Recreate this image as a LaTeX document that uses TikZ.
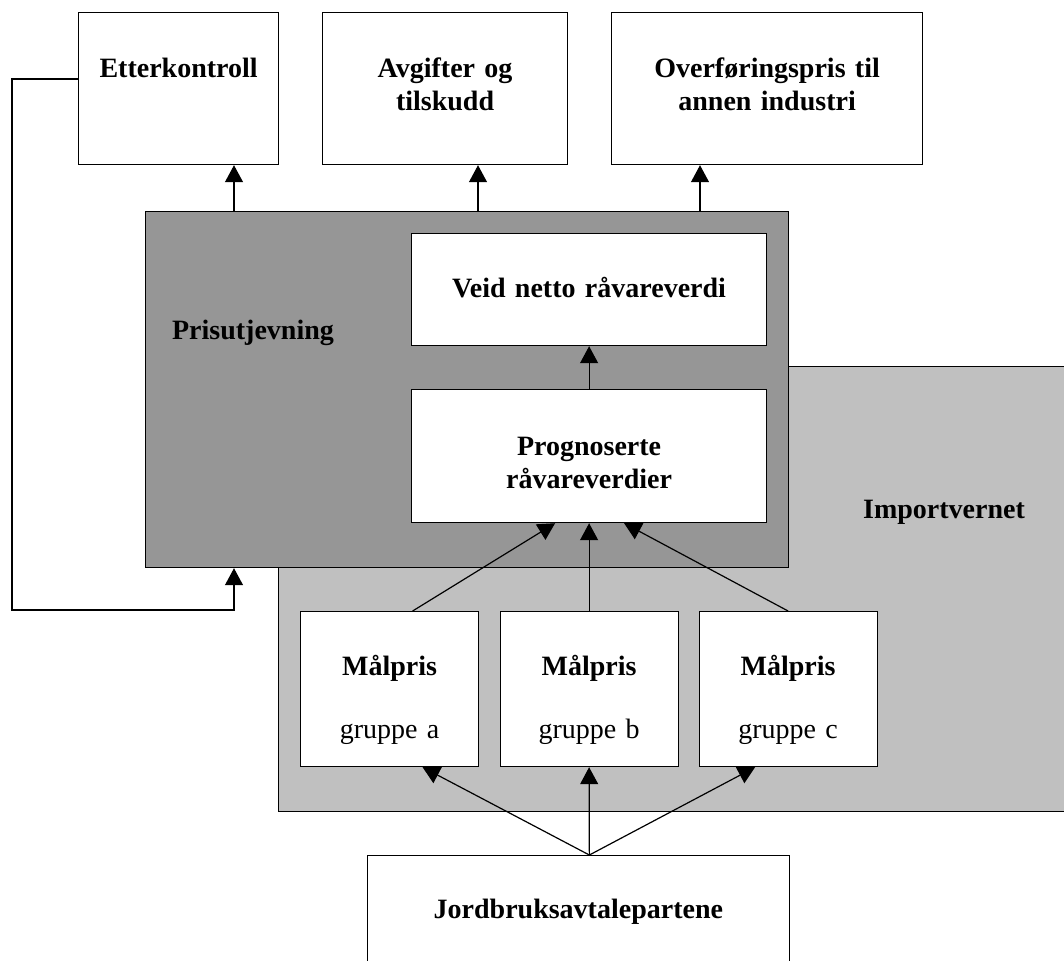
\documentclass[tikz,border=0pt]{standalone}
\usepackage{fontspec}
\setmainfont{Liberation Serif}
\usepackage{tikz}
\usetikzlibrary{arrows.meta}

\definecolor{prisgrey}{RGB}{150,150,150}
\definecolor{importgrey}{RGB}{192,192,192}

\begin{document}
\begin{tikzpicture}[x=0.5pt, y=-0.5pt,
    txt/.style={font=\fontsize{14}{16.5}\selectfont\bfseries},
    box/.style={txt, draw, fill=white, line width=0.6pt, inner sep=0pt,
        align=center, anchor=north west},
    region/.style={draw, line width=0.6pt, inner sep=0pt, anchor=north west},
    arr/.style={line width=0.6pt, -{Triangle[width=9pt, length=8.5pt]}}]
    \useasboundingbox (0,0) rectangle (1064,960);
    % grey regions
    \node (imp) [region, fill=importgrey, minimum width=398.5pt, minimum height=222.25pt] at (278,366) {};
    \node (pris) [region, fill=prisgrey, minimum width=321.5pt, minimum height=178pt] at (145,211) {};
    \node (lblpris) [txt, anchor=base west] at (165,339) {Prisutjevning};
    \node (lblimp) [txt, anchor=base] at (944,518) {Importvernet};
    % top row
    \node (etter) [box, text width=100pt, text height=32.25pt, text depth=43.75pt] at (78,12) {Etterkontroll};
    \node (avg) [box, text width=122.5pt, text height=32.25pt, text depth=43.75pt] at (322,12) {Avgifter og\\tilskudd};
    \node (over) [box, text width=155.5pt, text height=32.25pt, text depth=43.75pt] at (611,12) {Overføringspris til\\annen industri};
    % inside Prisutjevning
    \node (veid) [box, text width=177.5pt, text height=32pt, text depth=24pt] at (411,233) {Veid netto råvareverdi};
    \node (prog) [box, text width=177.5pt, text height=33pt, text depth=33.5pt] at (411,389) {Prognoserte\\råvareverdier};
    % target prices
    \foreach \x/\g in {300/a, 499.5/b, 698.5/c} {
        \node (m\g) [box, text width=89pt, text height=32pt, text depth=45.5pt] at (\x,611) {Målpris\\[15pt]{\mdseries gruppe \g}};
    }
    \node (jord) [box, text width=210.75pt, text height=31.5pt, text depth=30pt] at (367,855) {Jordbruksavtalepartene};
    % arrows out of Prisutjevning
    \coordinate (e1) at (234,0);
    \coordinate (e2) at (478,0);
    \coordinate (e3) at (700,0);
    \foreach \c/\b in {e1/etter, e2/avg, e3/over}
        \draw[arr] (pris.north -| \c) -- (\b.south -| \c);
    \draw[arr] (prog.north) -- (veid.south);
    % feedback from Etterkontroll
    \coordinate (fb) at (12,79);
    \coordinate (fbb) at (12,610);
    \draw[arr] (etter.west |- fb) -- (fb) -- (fbb) -| (pris.south -| e1);
    % target prices to forecast
    \draw[arr] ([xshift=11.5pt]ma.north) -- ([xshift=-17pt]prog.south);
    \draw[arr] (mb.north) -- (prog.south);
    \draw[arr] (mc.north) -- ([xshift=17.5pt]prog.south);
    % from the parties
    \coordinate (jtop) at ([xshift=5.5pt]jord.north);
    \draw[arr] (jtop) -- ([xshift=16.5pt]ma.south);
    \draw[arr] (jtop) -- (mb.south);
    \draw[arr] (jtop) -- ([xshift=-16.5pt]mc.south);
\end{tikzpicture}
\end{document}
